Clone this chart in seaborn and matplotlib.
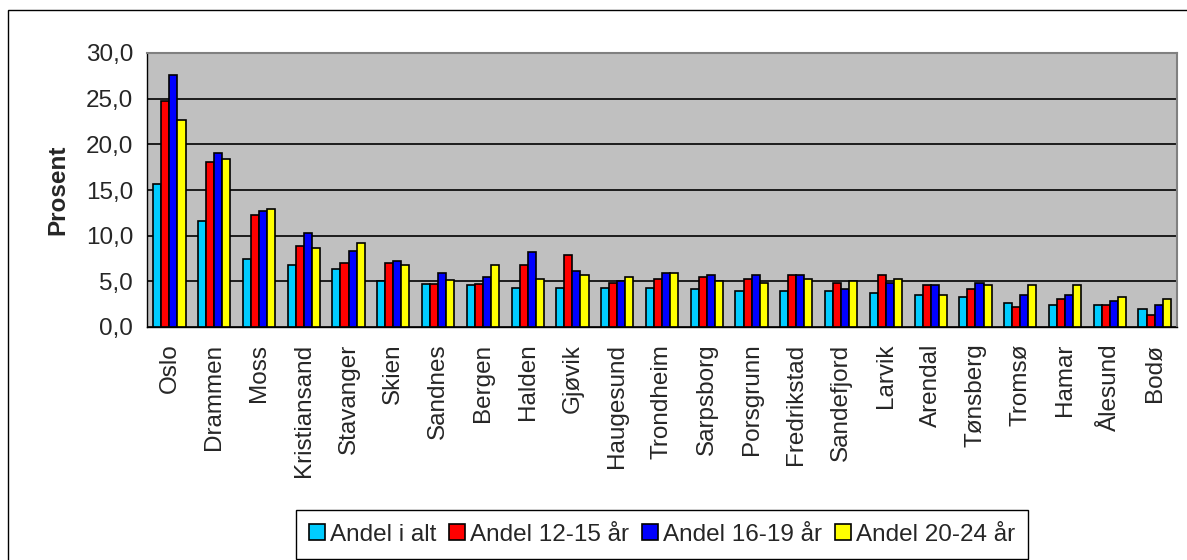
import pandas as pd
import seaborn as sns
import matplotlib.pyplot as plt
from matplotlib.patches import Rectangle
from matplotlib.ticker import FuncFormatter, FixedLocator
# --------------------------------------------------------------------------------------------------
# Data (percent)
byer = ["Oslo", "Drammen", "Moss", "Kristiansand", "Stavanger", "Skien", "Sandnes", "Bergen",
        "Halden", "Gjøvik", "Haugesund", "Trondheim", "Sarpsborg", "Porsgrunn", "Fredrikstad",
        "Sandefjord", "Larvik", "Arendal", "Tønsberg", "Tromsø", "Hamar", "Ålesund", "Bodø"]
serier = ["Andel i alt", "Andel 12-15 år", "Andel 16-19 år", "Andel 20-24 år"]

andel_i_alt = [15.7, 11.6, 7.4, 6.8, 6.3, 5.0, 4.75, 4.6, 4.3, 4.3, 4.3, 4.3, 4.15, 3.9, 3.9,
               3.9, 3.7, 3.5, 3.3, 2.6, 2.4, 2.4, 1.95]
andel_12_15 = [24.7, 18.1, 12.3, 8.9, 7.0, 7.0, 4.75, 4.75, 6.8, 7.9, 4.8, 5.3, 5.5, 5.3, 5.7,
               4.8, 5.7, 4.6, 4.15, 2.2, 3.05, 2.4, 1.3]
andel_16_19 = [27.6, 19.0, 12.7, 10.3, 8.3, 7.2, 5.9, 5.5, 8.2, 6.1, 5.0, 5.9, 5.7, 5.7, 5.7,
               4.15, 4.8, 4.6, 4.8, 3.5, 3.5, 2.8, 2.4]
andel_20_24 = [22.7, 18.4, 12.9, 8.7, 9.2, 6.75, 5.2, 6.8, 5.3, 5.7, 5.5, 5.9, 5.0, 4.8, 5.3,
               5.0, 5.3, 3.5, 4.6, 4.6, 4.6, 3.3, 3.05]

farger = ["#00CCFF", "#FF0000", "#0000FF", "#FFFF00"]
# --------------------------------------------------------------------------------------------------
# Long format for seaborn
df = pd.DataFrame({"By": byer, serier[0]: andel_i_alt, serier[1]: andel_12_15,
                   serier[2]: andel_16_19, serier[3]: andel_20_24})
df_long = df.melt(id_vars="By", var_name="Serie", value_name="Prosent")
# --------------------------------------------------------------------------------------------------
sns.set_style("white")
plt.rcParams["font.family"] = ["Liberation Sans", "DejaVu Sans"]

W, H = 1187, 560
fig = plt.figure(figsize=(W / 100, H / 100), dpi=100)
ax = fig.add_axes([147 / W, (H - 327) / H, 1030 / W, 274 / H])

sns.barplot(data=df_long, x="By", y="Prosent", hue="Serie", hue_order=serier, palette=farger,
            width=0.72, edgecolor="black", linewidth=1.2, saturation=1, ax=ax)

ax.set_facecolor("#C0C0C0")
ax.set_ylim(0, 30)
ax.set_xlim(-0.5, len(byer) - 0.5)
ax.set_yticks([0, 5, 10, 15, 20, 25, 30])
ax.yaxis.set_major_formatter(FuncFormatter(lambda v, p: f"{v:.1f}".replace(".", ",")))
ax.grid(axis="y", color="black", linewidth=1.2)
ax.set_axisbelow(True)

# ticks between the groups on x
ax.xaxis.set_minor_locator(FixedLocator([i - 0.5 for i in range(len(byer) + 1)]))
ax.tick_params(axis="x", which="major", length=0, pad=12, labelsize=17.5, rotation=90)
ax.tick_params(axis="x", which="minor", length=6, width=1, direction="out", color="black")
ax.tick_params(axis="y", length=6, width=1, direction="out", color="black", labelsize=17.5, pad=4)

for side in ["top", "right"]:
    ax.spines[side].set_color("#808080")
    ax.spines[side].set_linewidth(1.5)
for side in ["left", "bottom"]:
    ax.spines[side].set_color("black")
    ax.spines[side].set_linewidth(1)

ax.set_xlabel("")
ax.set_ylabel("Prosent", fontsize=17.5, fontweight="bold", labelpad=12)

# legend at the bottom
handles, labels = ax.get_legend_handles_labels()
ax.legend(handles, labels, loc="lower center", bbox_to_anchor=(662 / W, 1 / H),
          bbox_transform=fig.transFigure, ncol=4, fontsize=17.5, frameon=True, fancybox=False,
          edgecolor="black", framealpha=1, handlelength=0.65, handleheight=0.65,
          handletextpad=0.2, columnspacing=0.55, borderpad=0.55, borderaxespad=0)
ax.get_legend().get_frame().set_linewidth(1)

# outer chart border
fig.patches.append(Rectangle((8 / W, -0.05), 1.2, (H - 10) / H + 0.05, transform=fig.transFigure,
                             fill=False, edgecolor="black", linewidth=1, clip_on=False))

fig.savefig("out.png", dpi=100)
